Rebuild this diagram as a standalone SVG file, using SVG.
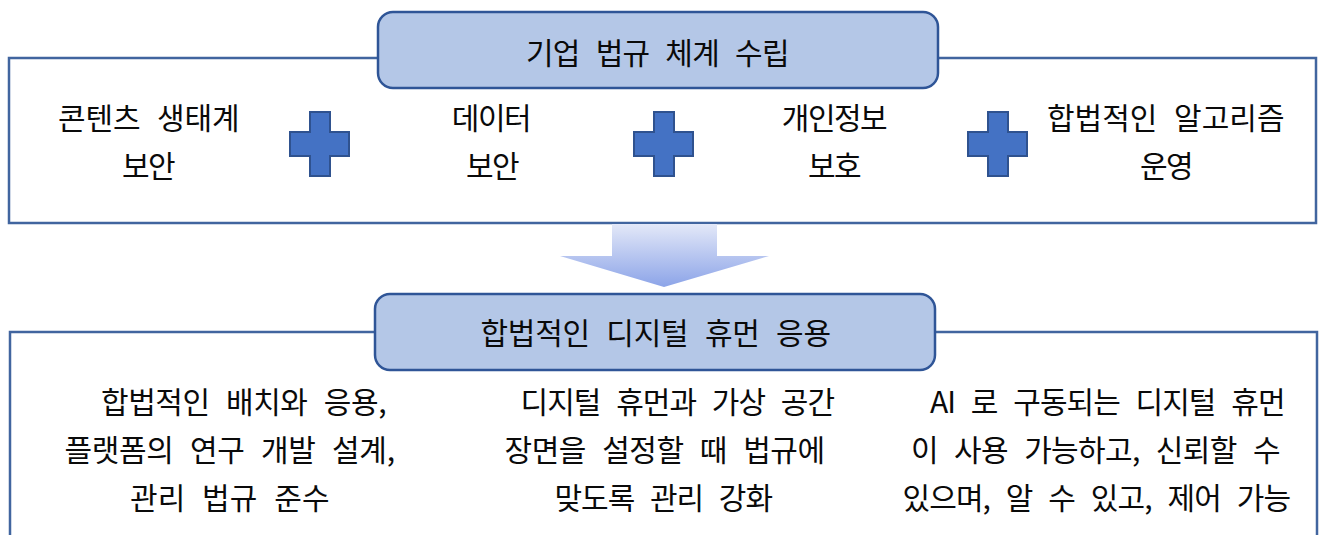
<svg xmlns="http://www.w3.org/2000/svg" width="1319" height="535" viewBox="0 0 1319 535">
<defs>
<linearGradient id="arrowGrad" x1="0" y1="0" x2="0" y2="1">
<stop offset="0" stop-color="#E3E8F8"/>
<stop offset="1" stop-color="#8CA4E8"/>
</linearGradient>
<path id="plusShape" d="M20,0 H40 V20 H59 V44 H40 V64 H20 V44 H0 V20 H20 Z"/>
</defs>
<style>
.box{fill:#FFFFFF;stroke:#41659F;stroke-width:2.5}
.hdr{fill:#B4C7E7;stroke:#2F5597;stroke-width:2.5}
.plus{fill:#4472C4;stroke:#2F528F;stroke-width:2}
.t{font-family:"Noto Sans CJK KR","Noto Sans",sans-serif;font-size:30px;letter-spacing:-1.5px;word-spacing:10px;fill:#0A0A0A;text-anchor:middle}
</style>
<g id="top-box">
<rect class="box" x="9" y="58" width="1307" height="165"/>
</g>
<g id="top-header">
<rect class="hdr" x="378" y="12" width="560" height="76" rx="15" ry="15"/>
<text class="t" x="657" y="64" textLength="262" lengthAdjust="spacing">기업 법규 체계 수립</text>
</g>
<g id="item-content">
<text class="t" x="148" y="129" textLength="180" lengthAdjust="spacing">콘텐츠 생태계</text>
<text class="t" x="148" y="177">보안</text>
</g>
<g id="item-data">
<text class="t" x="491" y="129">데이터</text>
<text class="t" x="492" y="177">보안</text>
</g>
<g id="item-privacy">
<text class="t" x="834" y="129">개인정보</text>
<text class="t" x="834" y="177">보호</text>
</g>
<g id="item-algorithm">
<text class="t" x="1165" y="129" textLength="236" lengthAdjust="spacing">합법적인 알고리즘</text>
<text class="t" x="1166" y="177">운영</text>
</g>
<g id="plus-1"><use href="#plusShape" class="plus" x="290" y="112"/></g>
<g id="plus-2"><use href="#plusShape" class="plus" x="634" y="112"/></g>
<g id="plus-3"><use href="#plusShape" class="plus" x="968" y="112"/></g>
<g id="connectors">
<path d="M612,224 H717 V256 H769 L664,287 L560,256 H612 Z" fill="url(#arrowGrad)"/>
</g>
<g id="bottom-box">
<rect class="box" x="10" y="332" width="1307" height="240"/>
</g>
<g id="bottom-header">
<rect class="hdr" x="375" y="294" width="560" height="76" rx="15" ry="15"/>
<text class="t" x="655" y="344" textLength="349" lengthAdjust="spacing">합법적인 디지털 휴먼 응용</text>
</g>
<g id="col-1">
<text class="t" x="243" y="413" textLength="284" lengthAdjust="spacing">합법적인 배치와 응용,</text>
<text class="t" x="229" y="461" textLength="329" lengthAdjust="spacing">플랫폼의 연구 개발 설계,</text>
<text class="t" x="229" y="509" textLength="198" lengthAdjust="spacing">관리 법규 준수</text>
</g>
<g id="col-2">
<text class="t" x="677" y="413" textLength="313" lengthAdjust="spacing">디지털 휴먼과 가상 공간</text>
<text class="t" x="664" y="461" textLength="319" lengthAdjust="spacing">장면을 설정할 때 법규에</text>
<text class="t" x="663" y="509" textLength="217" lengthAdjust="spacing">맞도록 관리 강화</text>
</g>
<g id="col-3">
<text class="t" x="1107" y="413" textLength="354" lengthAdjust="spacing">AI 로 구동되는 디지털 휴먼</text>
<text class="t" x="1095" y="461" textLength="368" lengthAdjust="spacing">이 사용 가능하고, 신뢰할 수</text>
<text class="t" x="1096" y="509" textLength="387" lengthAdjust="spacing">있으며, 알 수 있고, 제어 가능</text>
</g>
</svg>
